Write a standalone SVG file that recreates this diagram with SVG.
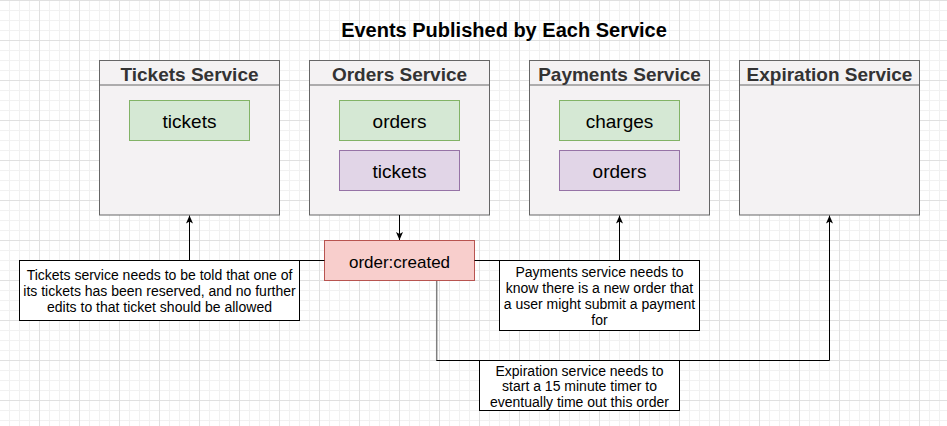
<svg xmlns="http://www.w3.org/2000/svg" width="947" height="426" viewBox="0 0 947 426">
<style>
text{font-family:"Liberation Sans",Arial,sans-serif;text-anchor:middle}
.title{font-size:20px;font-weight:bold;fill:#000}
.svc{fill:#f4f2f3;stroke:#666;stroke-width:1}
.hdr{font-size:19px;font-weight:bold;fill:#333}
.grn{fill:#d5e8d4;stroke:#82b366;stroke-width:1}
.pur{fill:#e1d5e7;stroke:#9673a6;stroke-width:1}
.red{fill:#f8cecc;stroke:#b85450;stroke-width:1}
.lbl{font-size:19px;fill:#000}
.note{fill:#fff;stroke:#000;stroke-width:1}
.nt{font-size:14px;fill:#000}
.conn{fill:none;stroke:#000;stroke-width:1}
</style>
<defs>
<pattern id="grid" patternUnits="userSpaceOnUse" width="40" height="40">
<rect width="40" height="40" fill="#fff"/>
<path d="M9.5,0V40M19.5,0V40M29.5,0V40M0,10.5H40M0,20.5H40M0,30.5H40" stroke="#f1f1f1" stroke-width="1"/>
<path d="M39.5,0V40M0,0.5H40" stroke="#e0e0e0" stroke-width="1"/>
</pattern>
<marker id="arr" markerUnits="userSpaceOnUse" viewBox="0 0 8 8" refX="8" refY="4" markerWidth="8" markerHeight="8" orient="auto">
<path d="M0,0.5L8,4L0,7.5L2,4z" fill="#000"/>
</marker>
</defs>
<rect width="947" height="426" fill="url(#grid)"/>
<text class="title" x="504" y="36.5">Events Published by Each Service</text>

<g id="tickets-service">
<rect class="svc" x="99.5" y="60.5" width="180" height="154.5"/>
<line x1="99.5" y1="85" x2="279.5" y2="85" stroke="#666"/>
<text class="hdr" x="189.5" y="80.5">Tickets Service</text>
<rect class="grn" x="129.5" y="100.5" width="120" height="40"/>
<text class="lbl" x="189.5" y="127.5">tickets</text>
</g>

<g id="orders-service">
<rect class="svc" x="309.5" y="60.5" width="180" height="154.5"/>
<line x1="309.5" y1="85" x2="489.5" y2="85" stroke="#666"/>
<text class="hdr" x="399.5" y="80.5">Orders Service</text>
<rect class="grn" x="339.5" y="100.5" width="120" height="40"/>
<text class="lbl" x="399.5" y="127.5">orders</text>
<rect class="pur" x="339.5" y="150.5" width="120" height="40"/>
<text class="lbl" x="399.5" y="177.5">tickets</text>
</g>

<g id="payments-service">
<rect class="svc" x="529.5" y="60.5" width="180" height="154.5"/>
<line x1="529.5" y1="85" x2="709.5" y2="85" stroke="#666"/>
<text class="hdr" x="619.5" y="80.5">Payments Service</text>
<rect class="grn" x="559.5" y="100.5" width="120" height="40"/>
<text class="lbl" x="619.5" y="127.5">charges</text>
<rect class="pur" x="559.5" y="150.5" width="120" height="40"/>
<text class="lbl" x="619.5" y="177.5">orders</text>
</g>

<g id="expiration-service">
<rect class="svc" x="739.5" y="60.5" width="180" height="154.5"/>
<line x1="739.5" y1="85" x2="919.5" y2="85" stroke="#666"/>
<text class="hdr" x="829.5" y="80.5">Expiration Service</text>
</g>

<g id="order-created">
<rect class="red" x="324.5" y="240.5" width="150" height="40"/>
<text class="lbl" x="399.5" y="267.5" style="font-size:17px">order:created</text>
</g>

<g id="connectors">
<path class="conn" d="M399.5,215V240" marker-end="url(#arr)"/>
<path class="conn" d="M324.5,260.5H189.5V215.5" marker-end="url(#arr)"/>
<path class="conn" d="M474.5,260.5H619.5V215.5" marker-end="url(#arr)"/>
<path class="conn" d="M436.5,281V360.5H829.5V215.5" marker-end="url(#arr)"/>
<line x1="436.7" y1="281" x2="436.7" y2="360" stroke="#808080" stroke-width="1.5"/>
</g>

<g id="note-tickets">
<rect class="note" x="19.5" y="260.5" width="280" height="60"/>
<text class="nt" x="159.5" y="279.5">Tickets service needs to be told that one of</text>
<text class="nt" x="159.5" y="295.5">its tickets has been reserved, and no further</text>
<text class="nt" x="159.5" y="311.5">edits to that ticket should be allowed</text>
</g>

<g id="note-payments">
<rect class="note" x="499.5" y="260.5" width="200" height="70"/>
<text class="nt" x="599.5" y="277">Payments service needs to</text>
<text class="nt" x="599.5" y="293">know there is a new order that</text>
<text class="nt" x="599.5" y="309">a user might submit a payment</text>
<text class="nt" x="599.5" y="325">for</text>
</g>

<g id="note-expiration">
<rect class="note" x="479.5" y="360.5" width="200" height="50"/>
<text class="nt" x="579.5" y="375.5">Expiration service needs to</text>
<text class="nt" x="579.5" y="391">start a 15 minute timer to</text>
<text class="nt" x="579.5" y="406.5">eventually time out this order</text>
</g>
</svg>
